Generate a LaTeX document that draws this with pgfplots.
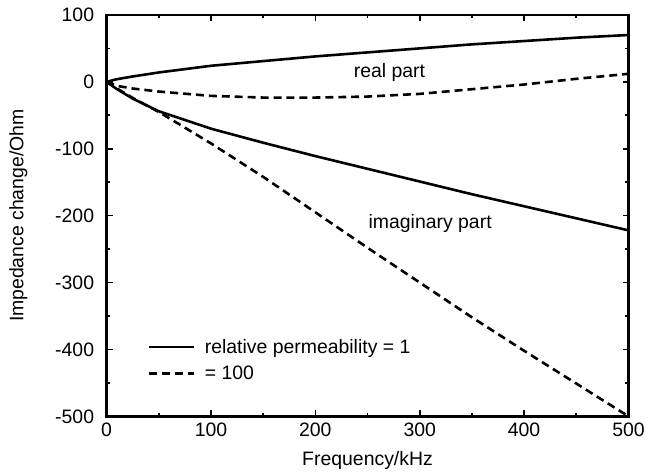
\documentclass[border=0pt]{standalone}
\usepackage{pgfplots}
\pgfplotsset{compat=1.18}
\usepackage{fontspec}
\setmainfont{Liberation Sans}
\begin{document}
\begin{tikzpicture}[font=\fontsize{19.5}{23}\selectfont]
\begin{axis}[
  scale only axis,
  width=524pt, height=403pt,
  xmin=0, xmax=500, ymin=-500, ymax=100,
  xtick={0,100,...,500}, ytick={-500,-400,...,100},
  minor xtick={50,150,...,450}, minor ytick={-450,-350,...,50},
  yticklabels={-500,-400,-300,-200,-100,0,100},
  tick align=inside,
  major tick length=6pt, minor tick length=3pt,
  every tick/.style={black, line width=1.6pt},
  axis line style={line width=2.4pt},
  every axis/.append style={line width=2.4pt},
  /pgf/number format/assume math mode=true,
  xlabel={Frequency/kHz},
  ylabel={Impedance change/Ohm},
  xticklabel style={yshift=-2pt},
  yticklabel style={xshift=-8pt},
  xlabel style={yshift=-7pt},
  ylabel style={yshift=20pt},
  legend style={draw=none, fill=none, at={(axis cs:38,-380)}, anchor=north west,
    row sep=7pt, inner sep=0pt, font=\fontsize{19.5}{23}\selectfont,
    /tikz/every odd column/.append style={column sep=8pt}},
  legend cell align=left,
  legend image code/.code={\draw[#1, line width=2.6pt] (0pt,0pt) -- (45pt,0pt);},
]
\addplot[black, line width=2.6pt] coordinates {
 (0,0) (10,4) (25,8) (50,14) (100,24) (150,31) (200,38) (250,44) (300,50) (350,56) (400,61) (450,66) (500,70)};
\addlegendentry{relative permeability = 1}
\addplot[black, line width=2.6pt, dash pattern=on 8pt off 5pt] coordinates {
 (0,0) (10,-6) (25,-10) (50,-14.5) (100,-21) (150,-23.5) (200,-23.5) (250,-22) (300,-18) (350,-11) (400,-4) (450,4.5) (500,12)};
\addlegendentry{= 100}
\addplot[black, line width=2.6pt, forget plot] coordinates {
 (0,0) (10,-11) (25,-25) (50,-44) (100,-70) (150,-91) (200,-111) (250,-130) (300,-149) (350,-168) (400,-186) (450,-204) (500,-222)};
\addplot[black, line width=2.6pt, dash pattern=on 8pt off 5pt, forget plot] coordinates {
 (0,0) (10,-10) (25,-24) (50,-45) (100,-92) (150,-142) (200,-195) (250,-248) (300,-300) (350,-352) (400,-402) (450,-451) (500,-500)};
\node at (axis cs:271,14) {real part};
\node at (axis cs:310,-212) {imaginary part};
\end{axis}
\path (current axis.south west) +(-107pt,-56pt);
\path (current axis.north east) +(17pt,15pt);
\end{tikzpicture}
\end{document}
